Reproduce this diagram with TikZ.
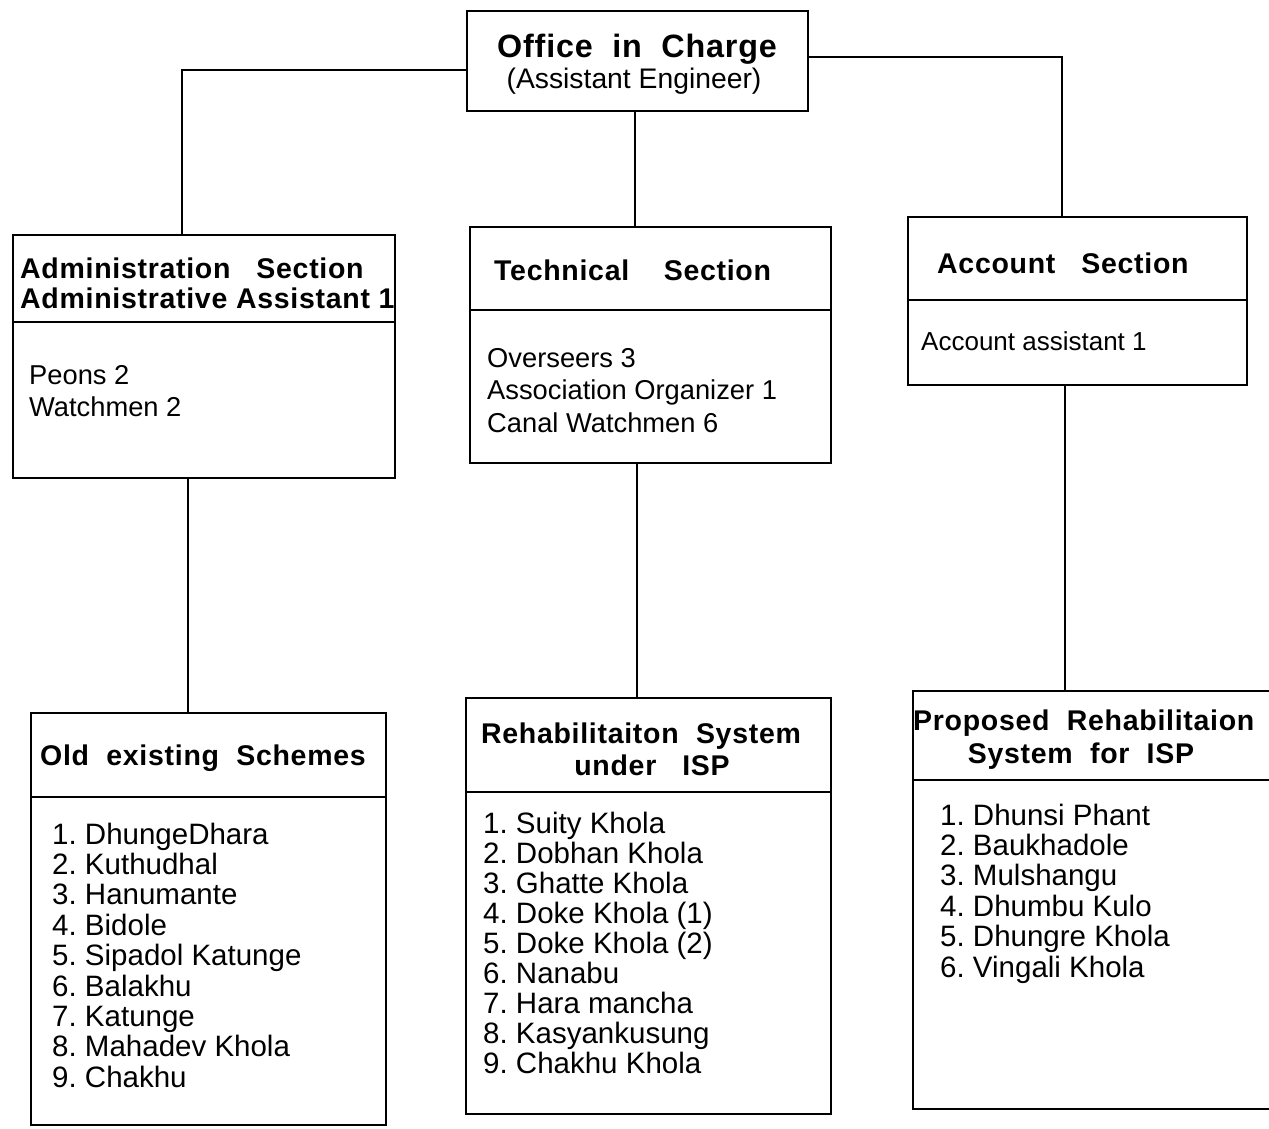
\documentclass[tikz,border=0pt]{standalone}
\usepackage{fontspec}
\setmainfont{Liberation Sans}
\newfontfamily\hdrfont[LetterSpace=2.5]{Liberation Sans}
\begin{document}
\frenchspacing
\begin{tikzpicture}[x=1pt,y=-1pt,
  box/.style={draw, line width=1.6pt, anchor=north west, inner sep=0pt, rectangle},
  link/.style={line width=1.5pt},
  hdr/.style={font=\fontsize{28.5}{30}\hdrfont\bfseries\frenchspacing, inner sep=0pt},
  bigtitle/.style={font=\fontsize{32.3}{34}\hdrfont\bfseries, inner sep=0pt},
  item/.style={font=\fontsize{29.5}{30}\selectfont\frenchspacing, inner sep=0pt, anchor=base west},
  body/.style={font=\fontsize{27.3}{30}\selectfont, inner sep=0pt, anchor=base west}]
\useasboundingbox (0,0) rectangle (1269,1128);
\fill[white] (0,0) rectangle (1269,1128);

% boxes
\node[box, minimum width=341pt, minimum height=100pt] (top) at (466,10) {};
\node[box, minimum width=382pt, minimum height=243pt] (admin) at (12,234) {};
\node[box, minimum width=361pt, minimum height=236pt] (tech) at (469,226) {};
\node[box, minimum width=339pt, minimum height=168pt] (acct) at (907,216) {};
\node[box, minimum width=355pt, minimum height=412pt] (old) at (30,712) {};
\node[box, minimum width=365pt, minimum height=416pt] (rehab) at (465,697) {};
\node[box, minimum width=380pt, minimum height=418pt] (prop) at (912,690) {};

% dividers
\draw[link] (admin.west |- 0,322) -- (admin.east |- 0,322);
\draw[link] (tech.west |- 0,310) -- (tech.east |- 0,310);
\draw[link] (acct.west |- 0,300) -- (acct.east |- 0,300);
\draw[link] (old.west |- 0,797) -- (old.east |- 0,797);
\draw[link] (rehab.west |- 0,792) -- (rehab.east |- 0,792);
\draw[link] (prop.west |- 0,780) -- (prop.east |- 0,780);

% connectors
\draw[link] (top.west |- 0,70) -| (182,0 |- admin.north);
\draw[link] (635,0 |- top.south) -- (635,0 |- tech.north);
\draw[link] (top.east |- 0,57) -| (1062,0 |- acct.north);
\draw[link] (188,0 |- admin.south) -- (188,0 |- old.north);
\draw[link] (637,0 |- tech.south) -- (637,0 |- rehab.north);
\draw[link] (1065,0 |- acct.south) -- (1065,0 |- prop.north);

% top box text
\node[bigtitle, anchor=base] (t1) at (637,57) {Office\ \ in\ \ Charge};
\node[font=\fontsize{28.3}{30}\selectfont, inner sep=0pt, anchor=base] (t2) at (634,88) {(Assistant Engineer)};

% admin
\node[hdr, anchor=base west] (a1) at (20,278) {Administration\ \ \ Section};
\node[hdr, anchor=base west] (a2) at (20,308) {Administrative Assistant 1};
\node[body] (a3) at (29,384) {Peons 2};
\node[body] (a4) at (29,416) {Watchmen 2};

% technical
\node[hdr, anchor=base west] (b1) at (494,280) {Technical\ \ \ \ Section};
\node[body] (b2) at (487,367) {Overseers 3};
\node[body] (b3) at (487,399) {Association Organizer 1};
\node[body] (b4) at (487,432) {Canal Watchmen 6};

% account
\node[hdr, anchor=base west] (c1) at (937,273) {Account\ \ \ Section};
\node[body, font=\fontsize{26}{30}\selectfont] (c2) at (921,350) {Account assistant 1};

% old existing
\node[hdr, anchor=base west] (d1) at (40,765) {Old\ \ existing\ \ Schemes};
\foreach \t [count=\i] in {DhungeDhara, Kuthudhal, Hanumante, Bidole, Sipadol Katunge, Balakhu, Katunge, Mahadev Khola, Chakhu}
  \node[item] (old\i) at (52,{844+30.4*(\i-1)}) {\i. \t};

% rehabilitation
\node[hdr, anchor=base] (e1) at (641,743) {Rehabilitaiton\ \ System};
\node[hdr, anchor=base] (e2) at (652,775) {under\ \ \ ISP};
\foreach \t [count=\i] in {Suity Khola, Dobhan Khola, Ghatte Khola, Doke Khola (1), Doke Khola (2), Nanabu, Hara mancha, Kasyankusung, Chakhu Khola}
  \node[item] (reh\i) at (483,{833+30.1*(\i-1)}) {\i. \t};

% proposed
\node[hdr, anchor=base west] (f1) at (913,730) {Proposed\ \ Rehabilitaion};
\node[hdr, anchor=base] (f2) at (1081,763) {System\ \ for\ \ ISP};
\foreach \t [count=\i] in {Dhunsi Phant, Baukhadole, Mulshangu, Dhumbu Kulo, Dhungre Khola, Vingali Khola}
  \node[item] (pro\i) at (940,{825+30.4*(\i-1)}) {\i. \t};
\end{tikzpicture}
\end{document}
